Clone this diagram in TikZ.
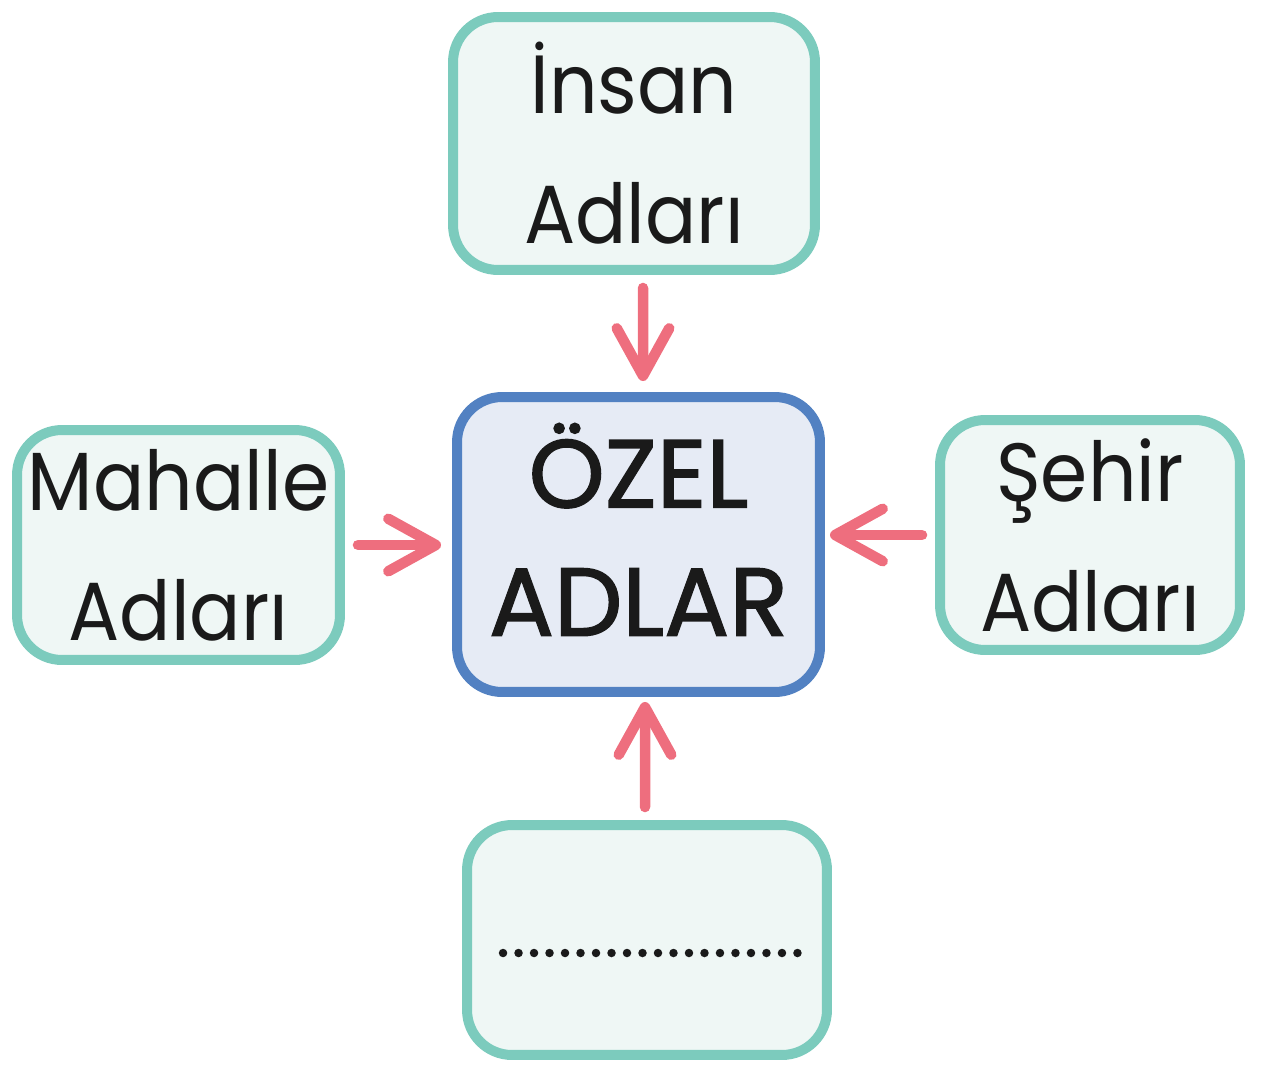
\documentclass[tikz,border=0pt]{standalone}
\usepackage{fontspec}
\setmainfont{Poppins}[FakeStretch=0.92]
\newfontfamily\centerfont[FakeBold=1.5]{Poppins}
\usetikzlibrary{arrows.meta}
\definecolor{tealline}{HTML}{7CCBBD}
\definecolor{tealfill}{HTML}{EFF7F5}
\definecolor{blueline}{HTML}{5281C2}
\definecolor{bluefill}{HTML}{E6EBF5}
\definecolor{arrowpink}{HTML}{EE6E7E}
\definecolor{textblack}{HTML}{1A1A1A}
\tikzset{
  namebox/.style={draw=tealline, fill=tealfill, line width=0.2cm, rounded corners=0.9cm,
    inner sep=0pt, align=center, text=textblack,
    font=\fontsize{47}{74}\selectfont},
  mainbox/.style={draw=blueline, fill=bluefill, line width=0.2cm, rounded corners=0.9cm,
    inner sep=0pt, align=center, text=textblack,
    font=\centerfont\fontsize{55}{73}\selectfont},
  pinkarrow/.style={draw=arrowpink, line width=0.21cm, line cap=round,
    -{Straight Barb[length=0.95cm,width=1.05cm,round]}},
  dotline/.style={draw=textblack, line width=0.17cm, line cap=round, dash pattern=on 0pt off 0.31cm}
}
\begin{document}
\begin{tikzpicture}[x=0.02cm,y=-0.02cm]
\useasboundingbox (0,0) rectangle (1267,1068);
\node[namebox, minimum width=7.24cm, minimum height=5.06cm] (top) at (634,143.5) {İnsan\\Adları};
\node[mainbox, minimum width=7.26cm, minimum height=5.9cm, text depth=0.6cm] (center) at (638.5,544.5) {ÖZEL\\ADLAR};
\node[namebox, minimum width=6.46cm, minimum height=4.6cm] (left) at (178.5,545) {Mahalle\\Adları};
\node[namebox, minimum width=6.0cm, minimum height=4.6cm] (right) at (1090,535) {Şehir\\Adları};
\node[namebox, minimum width=7.2cm, minimum height=4.6cm] (bottom) at (647,940) {};
\draw[pinkarrow, shorten <=0.26cm, shorten >=0.22cm] ([xshift=0.18cm]top.south) -- ([xshift=0.09cm]center.north);
\draw[pinkarrow, shorten <=0.26cm, shorten >=0.22cm] (left.east) -- (left.east -| center.west);
\draw[pinkarrow, shorten <=0.26cm, shorten >=0.1cm] (right.west) -- (right.west -| center.east);
\draw[pinkarrow, shorten <=0.26cm, shorten >=0.1cm] ([xshift=-0.04cm]bottom.north) -- ([xshift=0.13cm]center.south);
\draw[dotline] ([xshift=-2.88cm,yshift=-0.26cm]bottom.center) -- ([xshift=3.1cm,yshift=-0.26cm]bottom.center);
\end{tikzpicture}
\end{document}
